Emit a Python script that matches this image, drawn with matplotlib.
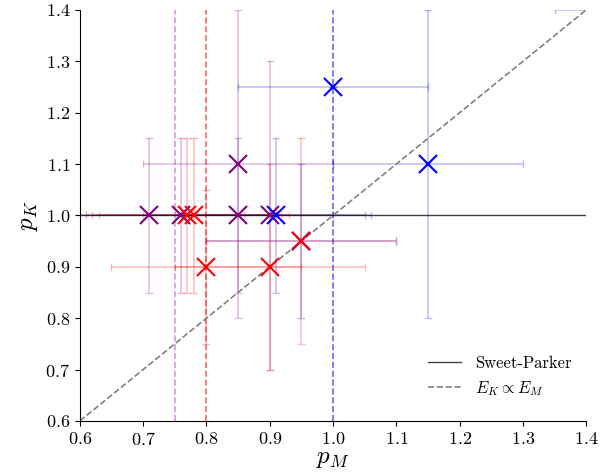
import numpy as np
import matplotlib
matplotlib.use("Agg")
import matplotlib.pyplot as plt

plt.rcParams['font.family'] = 'serif'
plt.rcParams['font.serif'] = ['cmr10']
plt.rcParams['mathtext.fontset'] = 'cm'
plt.rcParams['axes.formatter.use_mathtext'] = True

# p_M, p_K estimates with error bars, per group
purple_x = [0.71, 0.76, 0.85, 0.85, 0.90]
purple_y = [1.0, 1.0, 1.1, 1.0, 1.0]
purple_yerr = [0.15, 0.15, 0.3, 0.15, 0.3]

red_x = [0.77, 0.78, 0.80, 0.90, 0.95]
red_y = [1.0, 1.0, 0.9, 0.9, 0.95]
red_yerr = [0.15, 0.15, 0.15, 0.2, 0.2]

blue_x = [0.91, 0.95, 1.0, 1.15, 1.5]
blue_y = [1.0, 0.95, 1.25, 1.1, 1.4]
blue_yerr = [0.15, 0.15, 0.0, 0.3, 0.0]

xerr = 0.15
vlines = {'purple': 0.75, 'red': 0.8, 'blue': 1.0}

fig, ax = plt.subplots(figsize=(6, 4.73), dpi=100)
fig.subplots_adjust(left=0.133, right=0.977, top=0.979, bottom=0.11)

# purple first, then blue, red on top
groups = [('purple', purple_x, purple_y, purple_yerr, 'mediumorchid'),
          ('blue', blue_x, blue_y, blue_yerr, 'blue'),
          ('red', red_x, red_y, red_yerr, 'red')]

for col, xs, ys, yerr, lcol in groups:
    ax.errorbar(xs, ys, xerr=xerr, yerr=yerr, fmt='none', ecolor=col,
                alpha=0.25, capsize=3, elinewidth=1.2)
    ax.axvline(vlines[col], color=lcol, ls='--', lw=1.2, alpha=0.6)

ax.axhline(1.0, color='k', lw=1, alpha=0.75, label='Sweet-Parker')
diag = np.array([0.6, 1.4])
ax.plot(diag, diag, '--', color='gray', lw=1.2, label=r'$E_K \propto E_M$')

for i, (col, xs, ys, yerr, lcol) in enumerate(groups):
    ax.plot(xs, ys, 'x', color=col, markersize=13, mew=1.5,
            linestyle='none', zorder=5 + i)

ax.set_xlim(0.6, 1.4)
ax.set_ylim(0.6, 1.4)
ax.spines['top'].set_visible(False)
ax.spines['right'].set_visible(False)
ax.tick_params(labelsize=13)
ax.set_xlabel(r'$p_M$', fontsize=18, labelpad=0)
ax.set_ylabel(r'$p_K$', fontsize=18)
ax.legend(loc='lower right', frameon=False, fontsize=12, bbox_to_anchor=(1.0, 0.02))

fig.savefig('out.png')
